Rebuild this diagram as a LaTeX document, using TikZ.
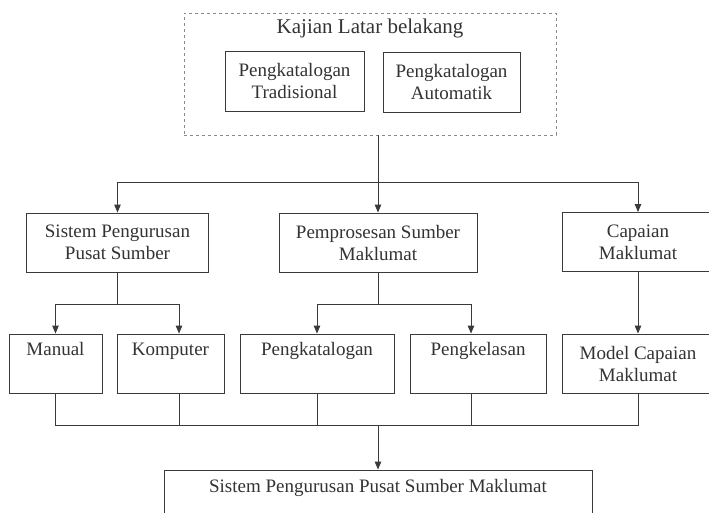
\documentclass[tikz,border=0pt]{standalone}
\usepackage{fontspec}
\setmainfont{Liberation Serif}
\usetikzlibrary{arrows.meta,calc}
\definecolor{ink}{HTML}{3A3A3A}
\definecolor{txt}{HTML}{333333}
\begin{document}
\begin{tikzpicture}[x=1pt,y=-1pt,
  box/.style={draw=ink, line width=0.9pt, inner sep=0pt, align=center, text=txt, font=\fontsize{19}{22}\selectfont},
  conn/.style={draw=ink, line width=0.9pt},
  arr/.style={conn, -{Triangle[length=8pt,width=6.5pt]}}]
\clip (0,0) rectangle (709,512);
\fill[white] (0,0) rectangle (709,512);
% top group
\node[draw=ink!60, dash pattern=on 3pt off 3pt, line width=0.7pt, minimum width=372pt, minimum height=122pt, inner sep=0pt] (bg) at (370,74) {};
\node[text=txt, font=\fontsize{21}{24}\selectfont] (title) at (370,28) {Kajian Latar belakang};
\node[box, minimum width=139pt, minimum height=60pt] (trad) at (294.5,81) {Pengkatalogan\\Tradisional};
\node[box, minimum width=137pt, minimum height=60pt] (auto) at (451.5,82) {Pengkatalogan\\Automatik};
% level 2
\node[box, minimum width=182pt, minimum height=59pt] (sps) at (117.5,242.5) {Sistem Pengurusan\\Pusat Sumber};
\node[box, minimum width=198pt, minimum height=59pt] (psm) at (378,242.5) {Pemprosesan Sumber\\Maklumat};
\node[box, minimum width=152pt, minimum height=59pt] (cm) at (638,242) {Capaian\\Maklumat};
% level 3
\node[box, minimum width=93pt, minimum height=59pt] (man) at (55.5,363.5) {Manual\\\strut};
\node[box, minimum width=107pt, minimum height=59pt] (komp) at (170.5,363.5) {Komputer\\\strut};
\node[box, minimum width=154pt, minimum height=59pt] (pkat) at (317,363.5) {Pengkatalogan\\\strut};
\node[box, minimum width=136pt, minimum height=59pt] (pkel) at (478,363.5) {Pengkelasan\\\strut};
\node[box, minimum width=152pt, minimum height=59pt] (model) at (638,363.5) {Model Capaian\\Maklumat};
% final
\node[box, minimum width=428pt, minimum height=60pt] (fin) at (378,500) {Sistem Pengurusan Pusat Sumber Maklumat\\\strut};
% connectors
\coordinate (j1) at (378,182);
\coordinate (j2) at (117.5,304);
\coordinate (j3) at (378,304);
\coordinate (j4) at (378,425);
\coordinate (kx) at (179,0);
\coordinate (px) at (471,0);
\draw[conn] (bg.south -| j1) -- (j1);
\draw[arr] (j1) -| (sps.north);
\draw[arr] (j1) -- (psm.north);
\draw[arr] (j1) -| (cm.north);
\draw[conn] (sps.south) -- (j2);
\draw[arr] (j2) -| (man.north);
\draw[arr] (j2) -| (komp.north -| kx);
\draw[conn] (psm.south) -- (j3);
\draw[arr] (j3) -| (pkat.north);
\draw[arr] (j3) -| (pkel.north -| px);
\draw[arr] (cm.south) -- (model.north);
\draw[conn] (man.south) |- (model.south |- j4) -- (model.south);
\draw[conn] (komp.south -| kx) -- (kx |- j4);
\draw[conn] (pkat.south) -- (pkat.south |- j4);
\draw[conn] (pkel.south -| px) -- (px |- j4);
\draw[arr] (j4) -- (fin.north);
\end{tikzpicture}
\end{document}
